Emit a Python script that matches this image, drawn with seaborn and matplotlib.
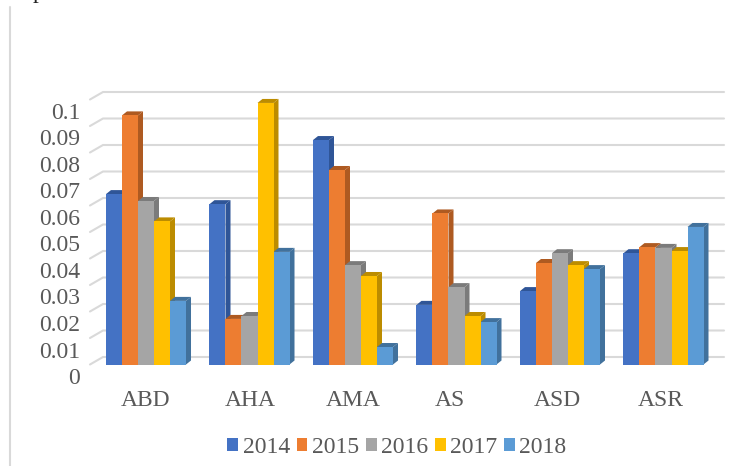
import matplotlib
matplotlib.use("Agg")
import matplotlib.pyplot as plt
from matplotlib.lines import Line2D
from matplotlib.patches import Polygon
from matplotlib.transforms import ScaledTranslation
import pandas as pd
import seaborn as sns

categories = ["ABD", "AHA", "AMA", "AS", "ASD", "ASR"]
years = ["2014", "2015", "2016", "2017", "2018"]
v2014 = [0.0643, 0.0605, 0.0847, 0.0225, 0.0277, 0.0420]
v2015 = [0.0940, 0.0172, 0.0734, 0.0570, 0.0383, 0.0443]
v2016 = [0.0617, 0.0183, 0.0375, 0.0292, 0.0420, 0.0440]
v2017 = [0.0540, 0.0987, 0.0334, 0.0183, 0.0375, 0.0428]
v2018 = [0.0240, 0.0425, 0.0066, 0.0160, 0.0360, 0.0519]
colors = ["#4472C4", "#ED7D31", "#A5A5A5", "#FFC000", "#5B9BD5"]
dark = ["#2F5597", "#AE5A21", "#7B7B7B", "#BC8C00", "#41719C"]
yticks = [0, 0.01, 0.02, 0.03, 0.04, 0.05, 0.06, 0.07, 0.08, 0.09, 0.1]
yticklabels = ["0", "0.01", "0.02", "0.03", "0.04", "0.05", "0.06", "0.07", "0.08", "0.09", "0.1"]

df = pd.DataFrame({"cat": categories, "2014": v2014, "2015": v2015, "2016": v2016,
                   "2017": v2017, "2018": v2018}).melt("cat", var_name="year", value_name="v")

W, H = 754, 466
sns.set_theme(style="white")
plt.rcParams["font.family"] = ["Liberation Serif", "DejaVu Serif"]
fig = plt.figure(figsize=(W / 100, H / 100), dpi=100)
L, R, B, T = 94.25, 715.25, 364.5, 99.5
ax = fig.add_axes([L / W, 1 - B / H, (R - L) / W, (B - T) / H])
sns.barplot(df, x="cat", y="v", hue="year", hue_order=years, palette=colors, order=categories,
            width=0.773, gap=0, saturation=1, ax=ax, errorbar=None, zorder=3, linewidth=0)
ax.set_xlim(-0.5, 5.5)
ax.set_ylim(0, 0.1)
ax.set(xlabel="", ylabel="")
sns.despine(ax=ax, left=True, bottom=True)
ax.patch.set_alpha(0)

px = 6 / (R - L)
py = 0.1 / (B - T)

# back wall gridlines with their short diagonal ticks
grid = "#D9D9D9"
for v in yticks:
    ax.add_line(Line2D([-0.5 + (90 - L) * px, -0.5 + (103 - L) * px, -0.5 + (724 - L) * px],
                       [v, v + 7.5 * py, v + 7.5 * py], color=grid, lw=1.5, clip_on=False, zorder=1))

# depth faces of the bars
dx, dy = 5 * px, 4 * py
for cont, dk in zip(ax.containers, dark):
    for bar in cont:
        x0, x1, h = bar.get_x(), bar.get_x() + bar.get_width(), bar.get_height()
        ax.add_patch(Polygon([(x1, 0), (x1 + dx, dy), (x1 + dx, h + dy), (x1, h)], fc=dk, ec="none",
                             clip_on=False, zorder=2))
        ax.add_patch(Polygon([(x0, h), (x0 + dx, h + dy), (x1 + dx, h + dy), (x1, h)], fc=dk, ec="none",
                             clip_on=False, zorder=2))

ax.set_yticks(yticks, yticklabels)
ax.tick_params(axis="both", length=0, labelsize=17, labelcolor="#595959")
ax.tick_params(axis="y", pad=10)
ax.tick_params(axis="x", pad=18.5)
shift = ScaledTranslation(0, -11.5 / 100, fig.dpi_scale_trans)
for lab in ax.get_yticklabels():
    lab.set_transform(lab.get_transform() + shift)
# the reference's last three category labels sit a little left of their groups
for lab, n in zip(ax.get_xticklabels(), [0, 0.5, 0, -6.5, -3, -3]):
    lab.set_transform(lab.get_transform() + ScaledTranslation(n / 100, 0, fig.dpi_scale_trans))

handles, labels = ax.get_legend_handles_labels()
ax.legend(handles, labels, ncol=5, frameon=False, fontsize=17, labelcolor="#595959",
          handlelength=0.46, handleheight=0.46, handletextpad=0.2, columnspacing=0.27,
          loc="center", bbox_to_anchor=(397 / W, 1 - 447.5 / H), bbox_transform=fig.transFigure,
          borderpad=0, borderaxespad=0)

# outer chart frame edge and the clipped text line above the chart
fig.add_artist(Line2D([9.5 / W, 9.5 / W], [0, 1 - 7 / H], color="#D9D9D9", lw=1.5))
fig.text(33 / W, 1 - (-2) / H, "p", fontsize=17, color="#222222", ha="left", va="baseline")

fig.savefig("out.png", dpi=100)
